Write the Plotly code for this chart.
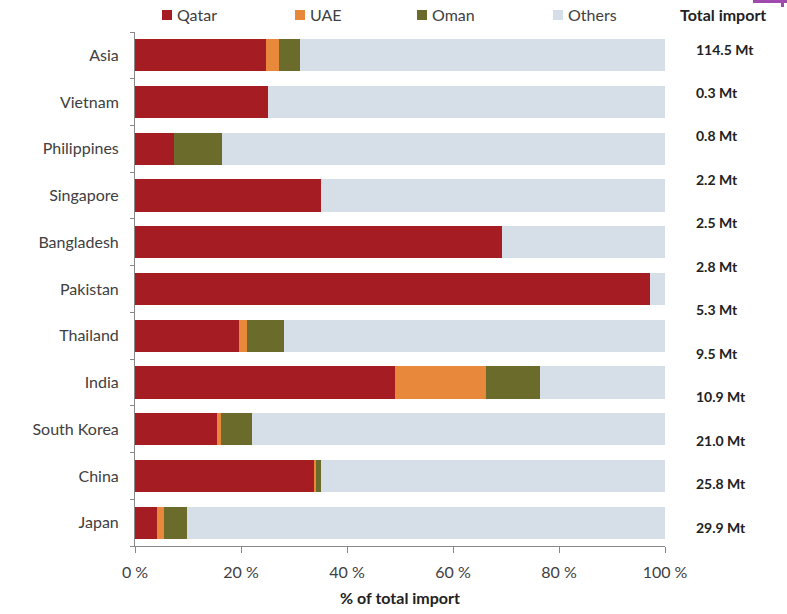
import plotly.graph_objects as go

# Import shares (% of total LNG import) by supplier
countries = ["Asia", "Vietnam", "Philippines", "Singapore", "Bangladesh", "Pakistan",
             "Thailand", "India", "South Korea", "China", "Japan"]
qatar = [24.7, 25.0, 7.4, 35.1, 69.2, 97.2, 19.7, 49.1, 15.5, 33.7, 4.2]
uae = [2.4, 0.0, 0.0, 0.0, 0.0, 0.0, 1.4, 17.2, 0.7, 0.5, 1.3]
oman = [4.1, 0.0, 9.1, 0.0, 0.0, 0.0, 7.0, 10.2, 5.8, 0.8, 4.3]
others = [round(100 - q - u - o, 1) for q, u, o in zip(qatar, uae, oman)]

# Total import column (listed top to bottom)
total_import = ["114.5 Mt", "0.3 Mt", "0.8 Mt", "2.2 Mt", "2.5 Mt", "2.8 Mt",
                "5.3 Mt", "9.5 Mt", "10.9 Mt", "21.0 Mt", "25.8 Mt", "29.9 Mt"]

tick_vals = [0, 20, 40, 60, 80, 100]
tick_text = ["0 %", "20 %", "40 %", "60 %", "80 %", "100 %"]

series_names = ["Qatar", "UAE", "Oman", "Others"]
series_values = [qatar, uae, oman, others]
series_colors = ["#A51C22", "#E8883A", "#6B6B2B", "#D6DEE7"]

FONT = "Lato"
TEXT = "#404040"
DARK = "#222222"

# plot-area geometry in pixels (used to place the header row and side column)
W, H = 787, 614
L, R, T, B = 135, 122, 32, 68
PW, PH = W - L - R, H - T - B


def px_x(x):
    return (x - L) / PW


def px_y(y):
    return (H - B - y) / PH


fig = go.Figure()
for name, vals, color in zip(series_names, series_values, series_colors):
    fig.add_trace(go.Bar(
        y=countries, x=vals, name=name, orientation="h",
        marker=dict(color=color, line=dict(width=0)),
        hoverinfo="x+name", showlegend=False,
    ))

# header legend: coloured square + series name
legend_x = [162, 295, 417, 553]
for name, color, lx in zip(series_names, series_colors, legend_x):
    fig.add_shape(type="rect", xref="paper", yref="paper",
                  x0=px_x(lx), x1=px_x(lx + 10), y0=px_y(20), y1=px_y(10),
                  fillcolor=color, line=dict(width=0))
    fig.add_annotation(text=name, x=px_x(lx + 13), xref="paper", xanchor="left",
                       y=px_y(15), yref="paper", yanchor="middle", showarrow=False,
                       font=dict(family=FONT, size=16, color=TEXT))

fig.add_annotation(text="<b>Total import</b>", x=px_x(678), xref="paper",
                   xanchor="left", y=px_y(15), yref="paper", yanchor="middle",
                   showarrow=False, font=dict(family=FONT, size=16, color=DARK))

# total import values down the right-hand side
n = len(total_import)
top_y, bottom_y = 49, 527
for i, txt in enumerate(total_import):
    yy = top_y + i * (bottom_y - top_y) / (n - 1)
    fig.add_annotation(text=f"<b>{txt}</b>", x=px_x(694), xref="paper",
                       xanchor="left", y=px_y(yy), yref="paper", yanchor="middle",
                       showarrow=False, font=dict(family=FONT, size=14, color=DARK))

# thin purple frame fragment in the top-right corner
fig.add_shape(type="rect", xref="paper", yref="paper", x0=px_x(753), x1=px_x(787),
              y0=px_y(3), y1=px_y(0), fillcolor="#A04AAE", line=dict(width=0))
fig.add_shape(type="rect", xref="paper", yref="paper", x0=px_x(781), x1=px_x(784),
              y0=px_y(7), y1=px_y(0), fillcolor="#A04AAE", line=dict(width=0))

fig.update_layout(
    barmode="stack",
    bargap=0.31,
    width=W, height=H,
    margin=dict(l=L, r=R, t=T, b=B),
    plot_bgcolor="white", paper_bgcolor="white",
    font=dict(family=FONT, size=16, color=TEXT),
    showlegend=False,
    xaxis=dict(range=[0, 100], tickvals=tick_vals, ticktext=tick_text,
               automargin=False,
               showgrid=False, zeroline=False, showline=True, linecolor="#888",
               ticks="outside", ticklen=6, tickcolor="#888",
               ticklabelstandoff=6,
               title=dict(text="<b>% of total import</b>", standoff=12,
                          font=dict(family=FONT, size=16, color=DARK)),
               tickfont=dict(family=FONT, size=16, color=TEXT)),
    yaxis=dict(categoryorder="array", categoryarray=countries[::-1],
               automargin=False,
               showgrid=False, showline=True, linecolor="#888",
               ticks="outside", ticklen=4, tickcolor="#888", tickson="boundaries",
               ticklabelstandoff=12,
               tickfont=dict(family=FONT, size=16, color=TEXT)),
)

fig.write_html("out.html")
